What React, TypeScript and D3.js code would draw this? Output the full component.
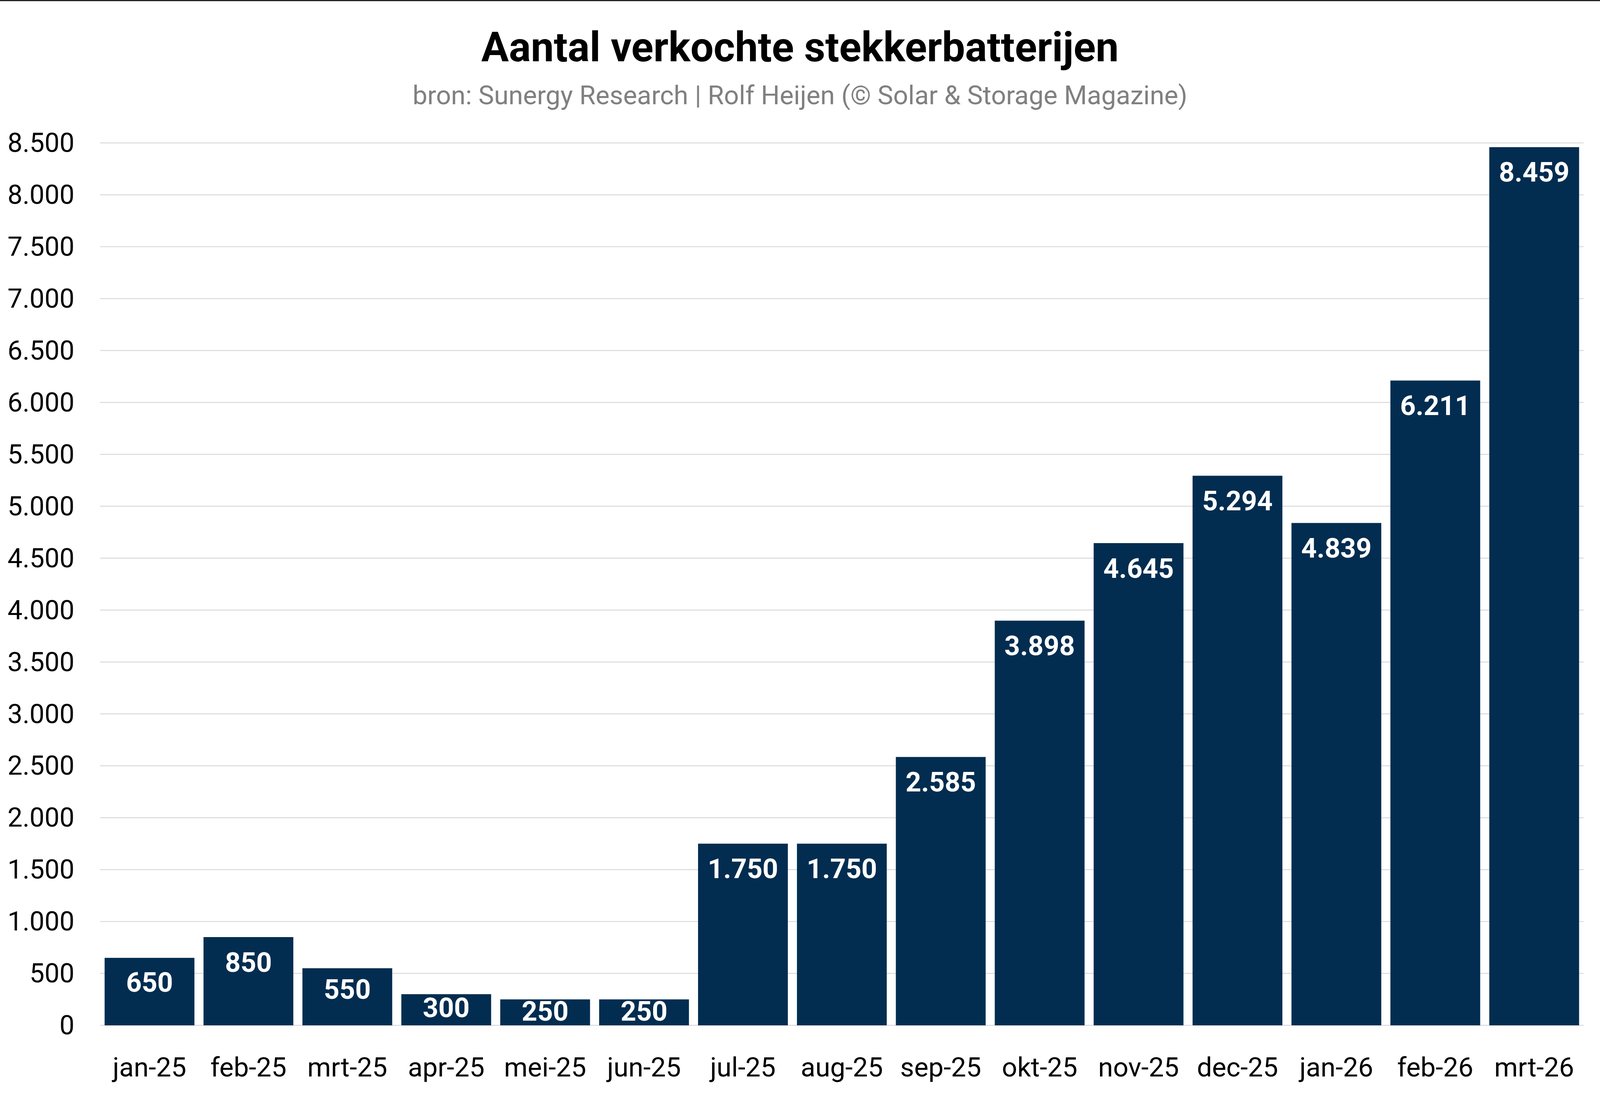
import React, { useRef, useEffect } from 'react';
import * as d3 from 'd3';

const months = [
  'jan-25', 'feb-25', 'mrt-25', 'apr-25', 'mei-25', 'jun-25', 'jul-25', 'aug-25',
  'sep-25', 'okt-25', 'nov-25', 'dec-25', 'jan-26', 'feb-26', 'mrt-26',
];
const sold = [650, 850, 550, 300, 250, 250, 1750, 1750, 2585, 3898, 4645, 5294, 4839, 6211, 8459];
const yTicks = [0, 500, 1000, 1500, 2000, 2500, 3000, 3500, 4000, 4500, 5000, 5500, 6000, 6500, 7000, 7500, 8000, 8500];

const title = 'Aantal verkochte stekkerbatterijen';
const subtitle = 'bron: Sunergy Research | Rolf Heijen (© Solar & Storage Magazine)';

// layout is measured on a 4989x2807 canvas and scaled to the real window
const W = 4989;
const H = 2807;
const BAR_COLOR = '#022d50';
const FONT = 'Roboto, "Noto Sans", sans-serif';

const nl = d3.formatLocale({ decimal: ',', thousands: '.', grouping: [3], currency: ['€', ''] });
const fmt = nl.format(',d');

const App: React.FC = () => {
  const svgRef = useRef<SVGSVGElement>(null);

  useEffect(() => {
    document.body.style.margin = '0';
    document.body.style.overflow = 'hidden';
    if (!svgRef.current) return;

    const w = document.documentElement.clientWidth || window.innerWidth || W;
    const h = window.innerHeight || H;
    const sx = w / W;
    const sy = h / H;
    const fs = Math.min(sx, sy);
    const X = (v: number) => v * sx;
    const Y = (v: number) => v * sy;

    const svg = d3.select(svgRef.current).attr('width', w).attr('height', h);
    svg.selectAll('*').remove();

    svg.append('rect').attr('width', w).attr('height', h).attr('fill', '#fff');
    // thin border line on top
    svg.append('rect').attr('x', 0).attr('y', 0).attr('width', w).attr('height', Math.max(1, Y(3))).attr('fill', '#222');

    const x = d3.scaleBand<string>()
      .domain(months)
      .range([X(312), X(4938)])
      .paddingInner(0.092)
      .paddingOuter(0.046);

    const y = d3.scaleLinear().domain([0, 8500]).range([Y(2626), Y(366)]);

    // titles
    svg.append('text')
      .attr('x', w / 2)
      .attr('y', Y(157))
      .attr('text-anchor', 'middle')
      .attr('font-family', FONT)
      .attr('font-weight', 700)
      .attr('font-size', 128 * fs)
      .attr('fill', '#000')
      .text(title);

    svg.append('text')
      .attr('x', w / 2)
      .attr('y', Y(267))
      .attr('text-anchor', 'middle')
      .attr('font-family', FONT)
      .attr('font-size', 82 * fs)
      .attr('fill', '#808080')
      .text(subtitle);

    // gridlines + y labels
    const grid = svg.append('g');
    grid.selectAll('line')
      .data(yTicks)
      .enter()
      .append('line')
      .attr('x1', X(312))
      .attr('x2', X(4938))
      .attr('y1', (d) => y(d))
      .attr('y2', (d) => y(d))
      .attr('stroke', '#dadada')
      .attr('stroke-width', Math.max(1, 3 * fs));

    grid.selectAll('text')
      .data(yTicks)
      .enter()
      .append('text')
      .attr('x', X(232))
      .attr('y', (d) => y(d))
      .attr('dy', '0.34em')
      .attr('text-anchor', 'end')
      .attr('font-family', FONT)
      .attr('font-size', 83 * fs)
      .attr('fill', '#000')
      .text((d) => fmt(d));

    // bars
    const bars = svg.append('g')
      .selectAll('g')
      .data(months.map((m, i) => ({ m, v: sold[i] })))
      .enter()
      .append('g');

    bars.append('rect')
      .attr('x', (d) => x(d.m)!)
      .attr('y', (d) => y(d.v))
      .attr('width', x.bandwidth())
      .attr('height', (d) => y(0) - y(d.v))
      .attr('fill', BAR_COLOR);

    // value labels sit inside the top of the bar, squeezed on short bars
    const labelSize = 85 * fs;
    const capH = labelSize * 0.71;
    bars.append('text')
      .attr('x', (d) => x(d.m)! + x.bandwidth() / 2)
      .attr('y', (d) => {
        const bh = y(0) - y(d.v);
        const off = Math.min(Y(39), Math.max(Y(4), (bh - capH) * 0.3));
        return y(d.v) + off + capH;
      })
      .attr('text-anchor', 'middle')
      .attr('font-family', FONT)
      .attr('font-weight', 700)
      .attr('font-size', labelSize)
      .attr('fill', '#fff')
      .text((d) => fmt(d.v));

    // x labels
    svg.append('g')
      .selectAll('text')
      .data(months)
      .enter()
      .append('text')
      .attr('x', (d) => x(d)! + x.bandwidth() / 2)
      .attr('y', Y(2757))
      .attr('text-anchor', 'middle')
      .attr('font-family', FONT)
      .attr('font-size', 84 * fs)
      .attr('fill', '#000')
      .text((d) => d);
  }, []);

  return (
    <div>
      <svg ref={svgRef} style={{ display: 'block' }} />
    </div>
  );
};

export default App;
